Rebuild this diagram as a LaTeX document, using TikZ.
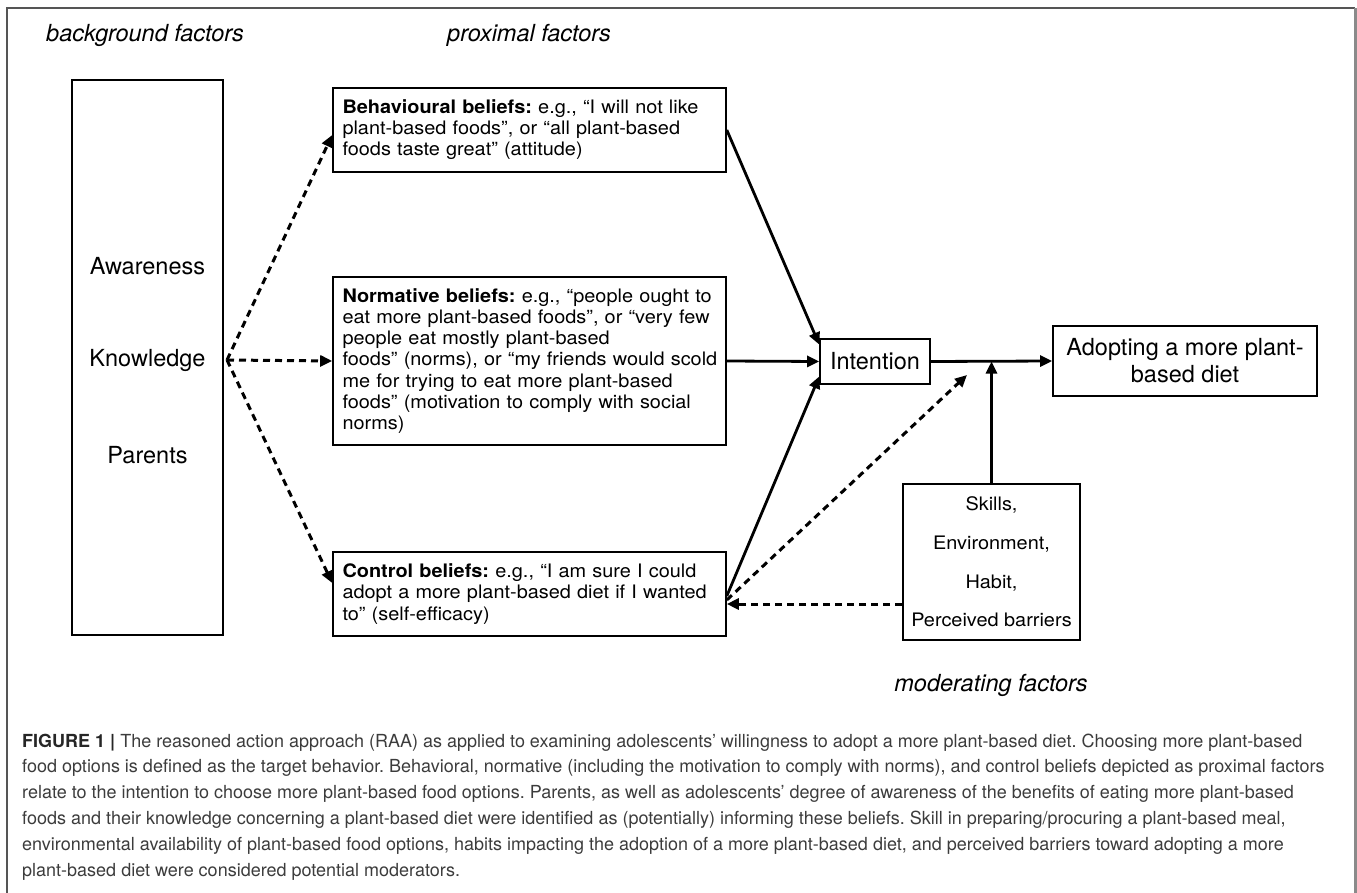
\documentclass[tikz,border=0pt]{standalone}
\usepackage{fontspec}
\setmainfont{TeX Gyre Heros}
\newfontfamily\widefont[FakeStretch=1.07]{TeX Gyre Heros}
\usetikzlibrary{arrows.meta,calc}
\definecolor{capgray}{HTML}{3C3C3C}
\definecolor{framegray}{HTML}{555555}
\definecolor{framegrayR}{HTML}{8A8A8A}
\frenchspacing
\begin{document}
\begin{tikzpicture}[x=1pt,y=-1pt,
  box/.style={draw, line width=1.6pt, inner sep=0pt},
  belief/.style={box, minimum width=393pt, text width=374pt, align=left, font=\widefont\fontsize{18.6}{21.1}\selectfont},
  big/.style={font=\fontsize{23.5}{27}\selectfont},
  lab/.style={font=\fontsize{23.5}{27}\selectfont\itshape},
  captext/.style={anchor=base west, inner sep=0pt, text=capgray, font=\fontsize{18}{22}\selectfont},
  arr/.style={line width=2.8pt, -{Triangle[length=12pt,width=11pt]}},
  darr/.style={arr, line width=3pt, dash pattern=on 7pt off 5pt}
]
\useasboundingbox (0,0) rectangle (1357,893);
% outer frame
\draw[framegray, line width=2pt] (7,893) -- (7,8) -- (1355,8);
\draw[framegrayR, line width=3pt] (1355,8) -- (1355,893);

% headings
\node[lab] (hbg) at (145,35) {background factors};
\node[lab] (hpx) at (529,35) {proximal factors};
\node[lab] (hmd) at (991,685) {moderating factors};

% background box
\node[box, minimum width=151pt, minimum height=555pt] (bg) at (147.5,357.5) {};
\node[big] (aw) at (147.5,266) {Awareness};
\node[big] (kn) at (147.5,360) {Knowledge};
\node[big] (pa) at (147.5,455) {Parents};
\coordinate (ko) at (227,360);

% belief boxes
\node[belief, minimum height=84pt] (beh) at (529.5,130) {\mbox{\textbf{Behavioural beliefs:} e.g., “I will not like}\\\mbox{plant-based foods”, or “all plant-based}\\\mbox{foods taste great” (attitude)}};
\node[belief, minimum height=168pt] (nor) at (529.5,361) {\mbox{\textbf{Normative beliefs:} e.g., “people ought to}\\\mbox{eat more plant-based foods”, or “very few}\\\mbox{people eat mostly plant-based}\\\mbox{foods” (norms), or “my friends would scold}\\\mbox{me for trying to eat more plant-based}\\\mbox{foods” (motivation to comply with social}\\\mbox{norms)}};
\node[belief, minimum height=84pt] (ctl) at (529.5,594) {\mbox{\textbf{Control beliefs:} e.g., “I am sure I could}\\\mbox{adopt a more plant-based diet if I wanted}\\\mbox{to” (self-efficacy)}};

% intention, outcome, moderators
\node[box, big, minimum width=110pt, minimum height=45pt] (int) at (875,361.5) {Intention};
\node[box, big, minimum width=264pt, minimum height=70pt, align=center] (ado) at (1185,361) {Adopting a more plant-\\based diet};
\node[box, minimum width=177pt, minimum height=156pt, align=center, font=\widefont\fontsize{18.6}{38.7}\selectfont] (mod) at (991.5,562) {Skills,\\Environment,\\Habit,\\Perceived barriers};
\coordinate (mtip) at (967,375);

% dashed arrows from background factors
\draw[darr] (ko) -- ([yshift=-5pt]beh.west);
\draw[darr] (ko) -- (nor.west);
\draw[darr] (ko) -- ([yshift=11pt]ctl.west);

% solid arrows to intention
\draw[arr] (beh.east) -- ([yshift=17pt]int.west);
\draw[arr] (nor.east) -- (int.west);
\draw[arr] ([yshift=-2pt]ctl.east) -- ([yshift=-15pt]int.west);
\draw[arr] (int.east) -- (ado.west);
\draw[arr] (mod.north) -- (mod.north |- int.east);

% dashed moderator arrows
\draw[darr] ([yshift=-6pt]ctl.east) -- (mtip);
\draw[darr] ([yshift=-42pt]mod.west) -- ([yshift=-10pt]ctl.east);

% caption
\node[captext] (c1) at (22,747) {\textbf{\color{black!85}FIGURE 1 |} The reasoned action approach (RAA) as applied to examining adolescents’ willingness to adopt a more plant-based diet. Choosing more plant-based};
\node[captext] (c2) at (22,772.8) {food options is defined as the target behavior. Behavioral, normative (including the motivation to comply with norms), and control beliefs depicted as proximal factors};
\node[captext] (c3) at (22,798.6) {relate to the intention to choose more plant-based food options. Parents, as well as adolescents’ degree of awareness of the benefits of eating more plant-based};
\node[captext] (c4) at (22,824.4) {foods and their knowledge concerning a plant-based diet were identified as (potentially) informing these beliefs. Skill in preparing/procuring a plant-based meal,};
\node[captext] (c5) at (22,850.2) {environmental availability of plant-based food options, habits impacting the adoption of a more plant-based diet, and perceived barriers toward adopting a more};
\node[captext] (c6) at (22,876) {plant-based diet were considered potential moderators.};
\end{tikzpicture}
\end{document}
